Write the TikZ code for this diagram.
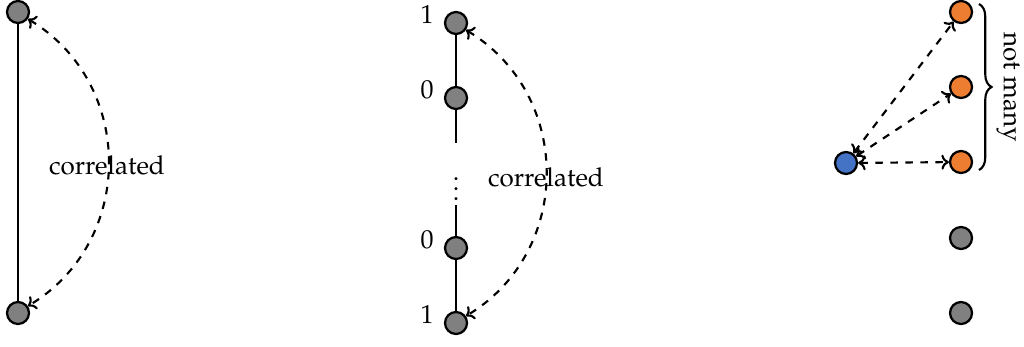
\documentclass[tikz,border=0pt]{standalone}
\usepackage[T1]{fontenc}
\usepackage{mathpazo}
\usetikzlibrary{decorations.pathreplacing,arrows.meta}
\definecolor{nodegray}{HTML}{808080}
\definecolor{nodeorange}{HTML}{ED7D31}
\definecolor{nodeblue}{HTML}{4472C4}
\begin{document}
\begin{tikzpicture}[x=0.4pt,y=0.4pt,
  font=\fontsize{10.4}{12}\selectfont,
  >={Computer Modern Rightarrow[length=3pt,width=6pt]},
  vtx/.style={circle,draw=black,line width=0.9pt,inner sep=0pt,minimum size=8.8pt},
  gvtx/.style={vtx,fill=nodegray},
  ovtx/.style={vtx,fill=nodeorange},
  bvtx/.style={vtx,fill=nodeblue},
  chain/.style={line width=0.95pt},
  corr/.style={<->,dashed,line width=0.85pt}]
\useasboundingbox (0,0) rectangle (1024,-346);
% left
\node[gvtx] (a1) at (18,-12) {};
\node[gvtx] (a2) at (18,-313) {};
\draw[chain] (a1) -- (a2);
\draw[corr] (a1.-35) to[out=-31,in=31,looseness=1.12] (a2.35);
\node (ca) at (107,-165) {correlated};
% middle
\node[gvtx] (m1) at (456,-23) {};
\node[gvtx] (m2) at (456,-98) {};
\node[gvtx] (m3) at (456,-248) {};
\node[gvtx] (m4) at (456,-323) {};
\coordinate (g1) at (456,-143);
\coordinate (g2) at (456,-205);
\draw[chain] (m1) -- (m2) -- (g1);
\draw[chain] (g2) -- (m3) -- (m4);
\node (vd) at (456,-182) {$\vdots$};
\node (l1) at (427,-15) {1};
\node (l2) at (427,-90) {0};
\node (l3) at (427,-240) {0};
\node (l4) at (427,-315) {1};
\draw[corr] (m1.-35) to[out=-31,in=31,looseness=1.12] (m4.35);
\node (cm) at (546,-177) {correlated};
% right
\node[ovtx] (r1) at (961,-12) {};
\node[ovtx] (r2) at (961,-87) {};
\node[ovtx] (r3) at (961,-162) {};
\node[gvtx] (r4) at (961,-238) {};
\node[gvtx] (r5) at (961,-313) {};
\node[bvtx] (b) at (846,-163) {};
\draw[corr] (b) -- (r1);
\draw[corr] (b) -- (r2);
\draw[corr] (b) -- (r3);
\coordinate (bt) at (979,-4);
\coordinate (bb) at (979,-170);
\draw[line width=0.85pt,decorate,decoration={brace,amplitude=5pt}] (bt) -- (bb);
\node[rotate=-90] (nm) at (1008,-87) {not many};
\end{tikzpicture}
\end{document}
